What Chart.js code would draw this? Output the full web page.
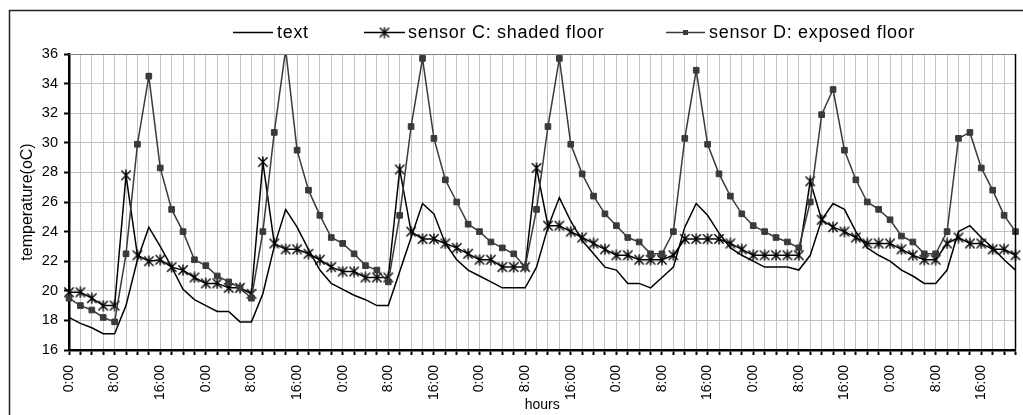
<!DOCTYPE html>
<html>
<head>
<meta charset="utf-8">
<script src="https://cdn.jsdelivr.net/npm/chart.js@4.4.0/dist/chart.umd.min.js"></script>
<style>
html,body{margin:0;padding:0;background:#fff;}
canvas{display:block;}
</style>
</head>
<body>
<canvas id="c" width="1023" height="415"></canvas>
<script>
// ---- data ----
const hours = [];
for (let i = 0; i < 84; i++) hours.push(((i * 2) % 24) + ':00');

const seriesNames = ['text', 'sensor C: shaded floor', 'sensor D: exposed floor'];

const textTemp = [
 18.2,17.8,17.5,17.1,17.1,19.0,22.1,24.3,23.0,21.6,20.1,19.4,19.0,18.6,18.6,17.9,
 17.9,19.8,23.0,25.5,24.3,22.8,21.4,20.5,20.1,19.7,19.4,19.0,19.0,21.3,23.6,25.9,
 25.2,23.2,22.1,21.4,21.0,20.6,20.2,20.2,20.2,21.6,24.3,26.3,24.7,23.4,22.5,21.6,
 21.4,20.5,20.5,20.2,20.9,21.6,24.3,25.9,25.1,23.9,22.9,22.4,22.0,21.6,21.6,21.6,
 21.4,22.4,24.8,25.9,25.5,24.0,22.9,22.4,22.0,21.4,21.0,20.5,20.5,21.4,24.0,24.4,
 23.6,22.9,22.1,21.4
];
const sensorC = [
 19.9,19.9,19.5,19.0,19.0,27.8,22.4,22.0,22.1,21.6,21.4,20.9,20.5,20.5,20.2,20.2,
 19.8,28.7,23.2,22.8,22.8,22.5,22.1,21.6,21.3,21.3,20.9,20.9,20.9,28.2,24.0,23.5,
 23.5,23.2,22.9,22.5,22.1,22.1,21.6,21.6,21.6,28.3,24.4,24.4,24.0,23.6,23.2,22.8,
 22.4,22.4,22.1,22.1,22.1,22.4,23.5,23.5,23.5,23.5,23.2,22.8,22.4,22.4,22.4,22.4,
 22.4,27.4,24.8,24.3,24.0,23.6,23.2,23.2,23.2,22.8,22.4,22.1,22.1,23.2,23.6,23.2,
 23.2,22.8,22.8,22.4
];
const sensorD = [
 19.5,19.0,18.7,18.2,17.9,22.5,29.9,34.5,28.3,25.5,24.0,22.1,21.7,21.0,20.6,20.2,
 19.5,24.0,30.7,36.3,29.5,26.8,25.1,23.6,23.2,22.5,21.7,21.4,20.6,25.1,31.1,35.7,
 30.3,27.5,26.0,24.5,24.0,23.3,22.9,22.5,21.6,25.5,31.1,35.7,29.9,27.9,26.4,25.2,
 24.4,23.6,23.3,22.5,22.5,24.0,30.3,34.9,29.9,27.9,26.4,25.2,24.4,24.0,23.6,23.3,
 22.9,26.0,31.9,33.6,29.5,27.5,26.0,25.5,24.8,23.7,23.3,22.5,22.5,24.0,30.3,30.7,
 28.3,26.8,25.1,24.0
];
const yMin = 16, yMax = 36, yStep = 2;
const xTitle = 'hours';
const yTitle = 'temperature(oC)';

// ---- styling helpers ----
const FONT = "'Liberation Sans', Arial, sans-serif";

function makeAsterisk(size, color, lw) {
  const c = document.createElement('canvas');
  c.width = size; c.height = size;
  const g = c.getContext('2d');
  g.strokeStyle = color; g.lineWidth = lw; g.lineCap = 'butt';
  const m = size / 2, r = size / 2 - 0.5, d = r * 0.85;
  g.beginPath();
  g.moveTo(m - d, m - d); g.lineTo(m + d, m + d);
  g.moveTo(m + d, m - d); g.lineTo(m - d, m + d);
  g.moveTo(m, m - r); g.lineTo(m, m + r);
  g.stroke();
  return c;
}
const asterisk = makeAsterisk(12, '#000', 1.4);

const legendSlots = [
  {x1: 233, x2: 273, tx: 277},
  {x1: 364, x2: 405, tx: 408},
  {x1: 666, x2: 705, tx: 709}
];
const legendY = 32;

const framePlugin = {
  id: 'frame',
  beforeDraw(chart) {
    const ctx = chart.ctx;
    ctx.save();
    ctx.fillStyle = '#fff';
    ctx.fillRect(0, 0, chart.width, chart.height);
    ctx.strokeStyle = '#222';
    ctx.lineWidth = 1.5;
    ctx.beginPath();
    ctx.moveTo(9.5, chart.height + 2);
    ctx.lineTo(9.5, 10.5);
    ctx.lineTo(chart.width + 2, 10.5);
    ctx.stroke();
    ctx.restore();
  },
  afterDraw(chart) {
    const ctx = chart.ctx;
    const a = chart.chartArea;
    ctx.save();
    ctx.strokeStyle = '#808080';
    ctx.lineWidth = 1;
    ctx.beginPath();
    ctx.moveTo(a.left, a.top + 0.5);
    ctx.lineTo(a.right, a.top + 0.5);
    ctx.stroke();
    ctx.strokeStyle = '#000';
    ctx.lineWidth = 1.5;
    ctx.beginPath();
    ctx.moveTo(a.right, a.top);
    ctx.lineTo(a.right, a.bottom);
    ctx.stroke();
    // legend
    chart.data.datasets.forEach((ds, i) => {
      const s = legendSlots[i];
      ctx.strokeStyle = ds.borderColor;
      ctx.lineWidth = ds.borderWidth;
      ctx.beginPath();
      ctx.moveTo(s.x1, legendY + 0.5);
      ctx.lineTo(s.x2, legendY + 0.5);
      ctx.stroke();
      const mx = (s.x1 + s.x2) / 2;
      if (ds.pointStyle === 'rect') {
        ctx.fillStyle = ds.pointBackgroundColor;
        ctx.fillRect(mx - 2.5, legendY - 2, 5, 5);
      } else if (ds.pointStyle && ds.pointStyle.getContext) {
        ctx.drawImage(ds.pointStyle, mx - ds.pointStyle.width / 2, legendY + 0.5 - ds.pointStyle.height / 2);
      }
      ctx.fillStyle = '#000';
      ctx.font = '18px ' + FONT;
      try { ctx.letterSpacing = '0.7px'; } catch (e) {}
      ctx.textBaseline = 'middle';
      ctx.textAlign = 'left';
      ctx.fillText(ds.label, s.tx, legendY + 1);
      try { ctx.letterSpacing = '0px'; } catch (e) {}
    });
    ctx.restore();
  }
};

new Chart(document.getElementById('c'), {
  type: 'line',
  data: {
    labels: hours,
    datasets: [
      {
        label: seriesNames[0], data: textTemp,
        borderColor: '#000', borderWidth: 1.5,
        pointRadius: 0, pointHoverRadius: 0, tension: 0, order: 2
      },
      {
        label: seriesNames[1], data: sensorC,
        borderColor: '#000', borderWidth: 1.5,
        pointStyle: asterisk, pointRadius: 6, pointHoverRadius: 6,
        tension: 0, order: 1
      },
      {
        label: seriesNames[2], data: sensorD,
        borderColor: '#3a3a3a', borderWidth: 1.5,
        pointStyle: 'rect', pointRadius: 4, pointHoverRadius: 4,
        pointBackgroundColor: '#3a3a3a', pointBorderColor: '#3a3a3a', pointBorderWidth: 1,
        tension: 0, order: 0
      }
    ]
  },
  options: {
    responsive: false,
    animation: false,
    devicePixelRatio: 1,
    layout: {padding: {top: 54, right: 7, left: 0, bottom: 0}},
    plugins: {legend: {display: false}, tooltip: {enabled: false}},
    events: [],
    scales: {
      x: {
        type: 'category',
        offset: false,
        grid: {color: '#c4c4c4', lineWidth: 1, tickColor: '#000', tickWidth: 2, tickLength: 5, drawTicks: true},
        border: {display: true, color: '#000', width: 2.5},
        ticks: {
          autoSkip: false, maxRotation: 90, minRotation: 90, padding: 10,
          color: '#000', font: {family: FONT, size: 14},
          callback: function (v, i) { return i % 4 === 0 ? this.getLabelForValue(v) : ''; }
        },
        title: {display: true, text: xTitle, color: '#000', font: {family: FONT, size: 14}, padding: {top: 0, bottom: 1.5}},
        afterFit(scale) { scale.height = 65; scale.paddingLeft = 0; scale.paddingRight = 0; }
      },
      y: {
        min: yMin, max: yMax,
        grid: {color: '#c4c4c4', lineWidth: 1, tickColor: '#000', tickWidth: 2, tickLength: 5},
        border: {display: true, color: '#000', width: 2.5},
        ticks: {stepSize: yStep, padding: 6, color: '#000', font: {family: FONT, size: 14.5}},
        title: {display: true, text: yTitle, color: '#000', font: {family: FONT, size: 16}, padding: {top: 18, bottom: 0}},
        afterFit(scale) { scale.width = 69; scale.paddingTop = 0; scale.paddingBottom = 0; }
      }
    }
  },
  plugins: [framePlugin]
});
</script>
</body>
</html>
